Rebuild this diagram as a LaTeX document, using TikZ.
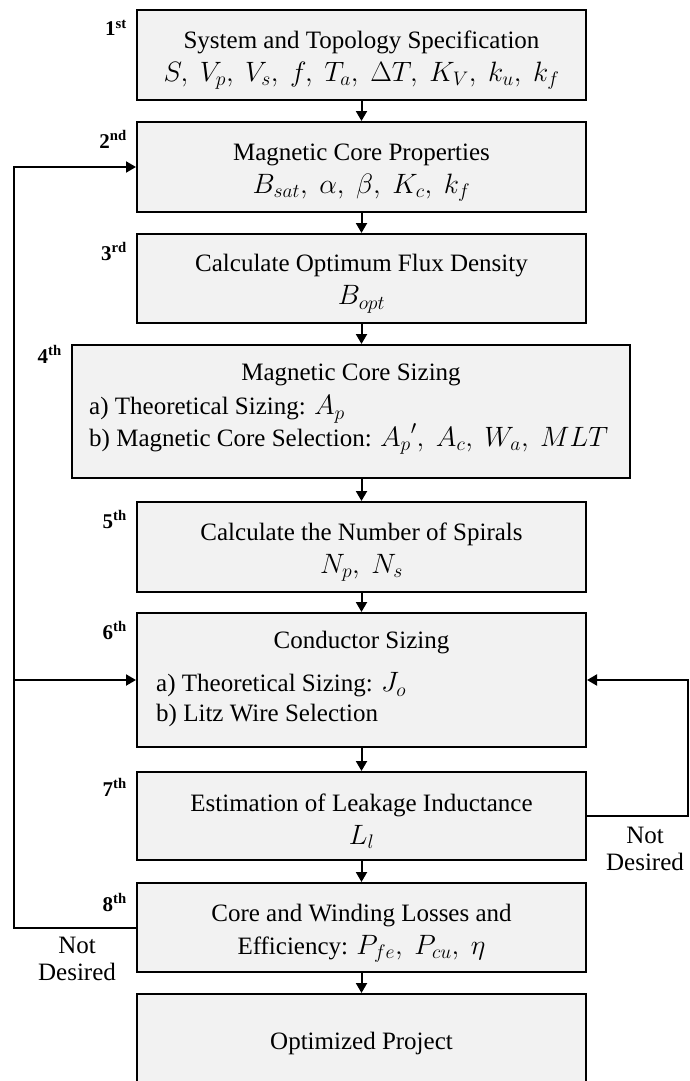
\RequirePackage{fix-cm}
\documentclass[tikz,border=0pt]{standalone}
\usepackage{fontspec}
\setmainfont{Liberation Serif}
\usetikzlibrary{arrows.meta,calc}
\definecolor{boxgray}{HTML}{F2F2F2}
\newcommand\bodysize{\fontsize{25}{30}\selectfont}
\newcommand\tagsize{\bfseries\fontsize{21}{24}\selectfont}
% math set a little larger, with open spacing after commas
\newcommand\mth[1]{{\fontsize{28}{30}\selectfont$#1$}}
\newcommand\cm{,\mskip 4.5mu}
% strut that lowers the first line of a box text
\newcommand\topstrut{\rule{0pt}{28pt}}

\begin{document}
\begin{tikzpicture}[x=1pt,y=-1pt,
  stepbox/.style={draw=black, line width=2pt, fill=boxgray, inner sep=0pt,
    align=center, font=\bodysize, minimum width=449pt},
  steptag/.style={anchor=base east, inner sep=0pt, font=\tagsize},
  inbox/.style={font=\bodysize, inner sep=0pt},
  note/.style={align=center, inner sep=0pt, font=\fontsize{25}{27}\selectfont},
  flow/.style={line width=2pt, line join=miter, -{Triangle[length=10pt,width=11pt]}}]

\useasboundingbox (0,0) rectangle (689,1081);

% process steps
\node[stepbox, minimum height=90pt] (b1) at (361.5,55)
  {\topstrut System and Topology Specification\\[3pt]
   \mth{S\cm V_p\cm V_s\cm f\cm T_a\cm \Delta T\cm K_V\cm k_u\cm k_f}};
\node[stepbox, minimum height=90pt] (b2) at (361.5,167)
  {\topstrut Magnetic Core Properties\\[3pt] \mth{B_{sat}\cm \alpha\cm \beta\cm K_c\cm k_f}};
\node[stepbox, minimum height=89pt] (b3) at (361.5,278.5)
  {\topstrut Calculate Optimum Flux Density\\[3pt] \mth{B_{opt}}};
\node[stepbox, minimum width=558pt, minimum height=133pt] (b4) at (351,411.5) {};
\node[stepbox, minimum height=90pt] (b5) at (361.5,547)
  {\topstrut Calculate the Number of Spirals\\[3pt] \mth{N_p\cm N_s}};
\node[stepbox, minimum height=134pt] (b6) at (361.5,680) {};
\node[stepbox, minimum height=88pt] (b7) at (361.5,816)
  {\topstrut Estimation of Leakage Inductance\\[3pt] \mth{L_l}};
\node[stepbox, minimum height=89pt] (b8) at (361.5,927.5)
  {\topstrut Core and Winding Losses and\\[3pt] Efficiency: \mth{P_{fe}\cm P_{cu}\cm \eta}};
\node[stepbox, minimum height=89pt] (b9) at (361.5,1038.5)
  {\topstrut Optimized Project};

% contents of the two sizing steps
\node[inbox] (t4) at ($(b4.north)+(0,31)$) {Magnetic Core Sizing};
\node[inbox, anchor=west, align=left] (i4)
  at ($(b4.north west)+(18,81)$)
  {a) Theoretical Sizing: \mth{A_p}\\
   b) Magnetic Core Selection: \mth{{A_p}'\cm A_c\cm W_a\cm MLT}};
\node[inbox] (t6) at ($(b6.north)+(0,31)$) {Conductor Sizing};
\node[inbox, anchor=west, align=left] (i6)
  at ($(b6.north west)+(20,88)$)
  {a) Theoretical Sizing: \mth{J_o}\\ b) Litz Wire Selection};

% step numbers
\node[steptag] (s1) at ($(b1.north west)+(-9,27)$) {1\textsuperscript{st}};
\node[steptag] (s2) at ($(b2.north west)+(-9,27)$) {2\textsuperscript{nd}};
\node[steptag] (s3) at ($(b3.north west)+(-9,27)$) {3\textsuperscript{rd}};
\node[steptag] (s4) at ($(b4.north west)+(-9,19)$) {4\textsuperscript{th}};
\node[steptag] (s5) at ($(b5.north west)+(-9,27)$) {5\textsuperscript{th}};
\node[steptag] (s6) at ($(b6.north west)+(-9,27)$) {6\textsuperscript{th}};
\node[steptag] (s7) at ($(b7.north west)+(-9,25)$) {7\textsuperscript{th}};
\node[steptag] (s8) at ($(b8.north west)+(-9,29)$) {8\textsuperscript{th}};

% main flow
\draw[flow] (b1) -- (b2);
\draw[flow] (b2) -- (b3);
\draw[flow] (b3.south) -- (b3.south |- b4.north);
\draw[flow] (b5.north |- b4.south) -- (b5.north);
\draw[flow] (b5) -- (b6);
\draw[flow] (b6) -- (b7);
\draw[flow] (b7) -- (b8);
\draw[flow] (b8) -- (b9);

% feedback loops
\coordinate (L) at (14,0);
\coordinate (R) at (688,0);
\draw[flow] (b8.west) -- (b8.west -| L) -- (b2.west -| L) -- (b2.west);
\draw[flow] (b6.west -| L) -- (b6.west);
\draw[flow] (b7.east) -- (b7.east -| R) -- (b6.east -| R) -- (b6.east);

\node[note] (n7) at (645,849) {Not\\Desired};
\node[note] (n8) at (77,959) {Not\\Desired};
\end{tikzpicture}
\end{document}
